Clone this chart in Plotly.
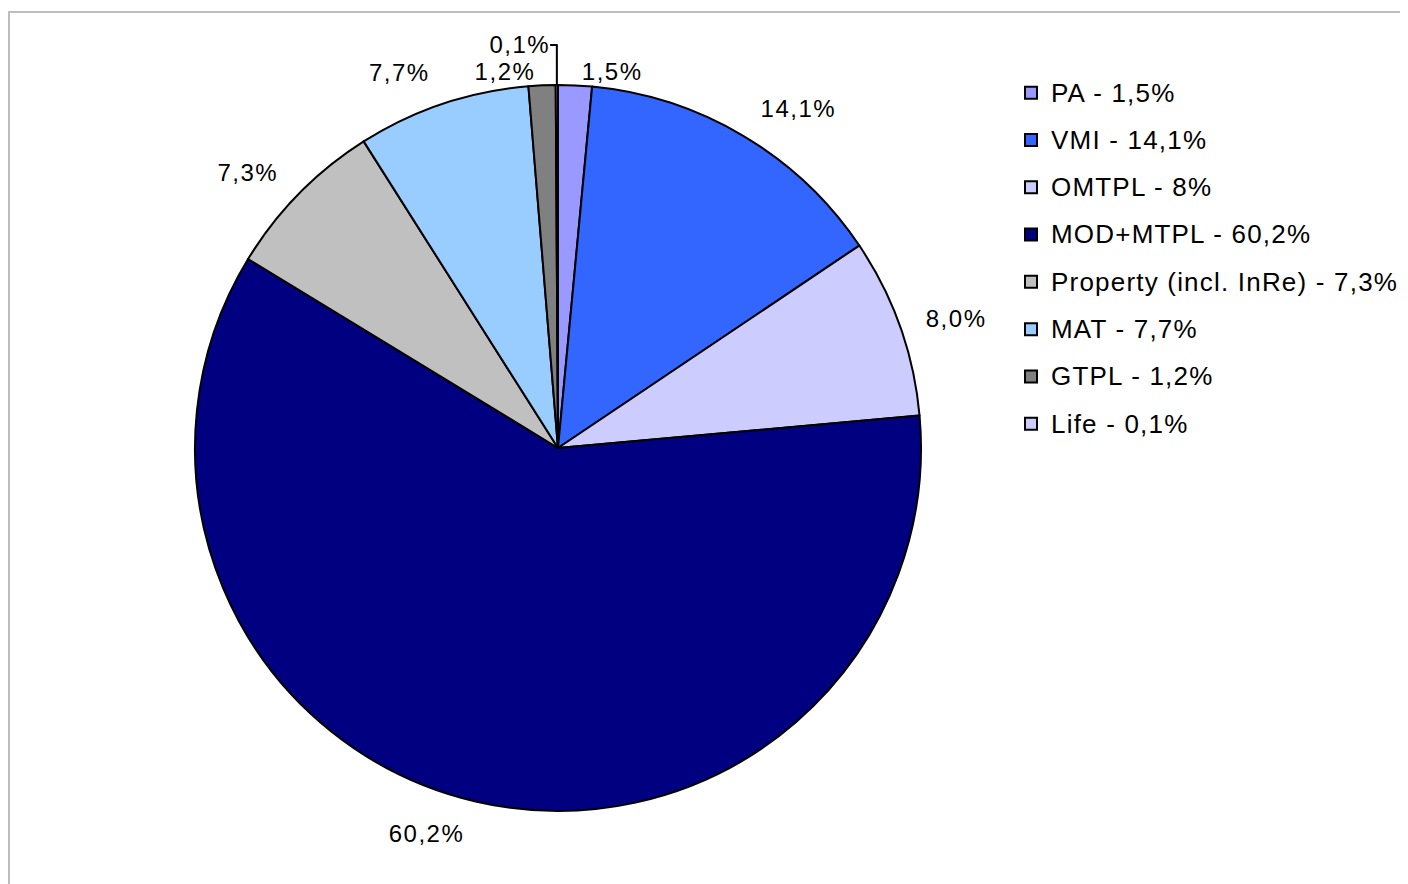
import plotly.graph_objects as go

categories = ["PA", "VMI", "OMTPL", "MOD+MTPL", "Property (incl. InRe)", "MAT", "GTPL", "Life"]
values = [1.5, 14.1, 8.0, 60.2, 7.3, 7.7, 1.2, 0.1]
slice_labels = ["1,5%", "14,1%", "8,0%", "60,2%", "7,3%", "7,7%", "1,2%", "0,1%"]
legend_values = ["1,5%", "14,1%", "8%", "60,2%", "7,3%", "7,7%", "1,2%", "0,1%"]
colors = ["#9999FF", "#3366FF", "#CCCCFF", "#000080", "#C0C0C0", "#99CCFF", "#808080", "#CCCCFF"]

W, H = 1408, 884
FONT = "Liberation Sans, Arial, sans-serif"
SPAN = "<span style='font-size:%dpx;letter-spacing:%.1fpx'>%s</span>"

legend_text = [
    "<br><br>" + SPAN % (26, 1.2, "%s - %s" % (c, v)) + "<br>"
    for c, v in zip(categories, legend_values)
]
# small slices get labels close to the pie, larger ones further out
small = [v < 2 for v in values]
label_far = [("" if s else SPAN % (24, 1.5, t)) for s, t in zip(small, slice_labels)]
label_near = [(SPAN % (24, 1.5, t) if s else "") for s, t in zip(small, slice_labels)]

# page offset of 8px (body margin) taken into account
cx, cy, r = 550, 440, 363


def dom(rad):
    return dict(x=[(cx - rad) / W, (cx + rad) / W], y=[1 - (cy + rad) / H, 1 - (cy - rad) / H])


def label_pie(texts, rad):
    return go.Pie(
        labels=categories,
        values=values,
        text=texts,
        textinfo="text",
        textposition="outside",
        outsidetextfont=dict(family=FONT, size=24, color="#000000"),
        sort=False,
        direction="clockwise",
        rotation=0,
        marker=dict(colors=["rgba(0,0,0,0)"] * len(values), line=dict(width=0)),
        domain=dom(rad),
        showlegend=False,
        hoverinfo="skip",
        automargin=False,
    )


pie = go.Pie(
    labels=legend_text,
    values=values,
    textinfo="none",
    sort=False,
    direction="clockwise",
    rotation=0,
    marker=dict(colors=colors, line=dict(color="#000000", width=2)),
    domain=dom(r),
    hoverinfo="label+percent",
)

fig = go.Figure([label_pie(label_far, r + 20), label_pie(label_near, r), pie])

fig.update_layout(
    width=W,
    height=H,
    margin=dict(l=0, r=0, t=0, b=0),
    paper_bgcolor="#FFFFFF",
    plot_bgcolor="#FFFFFF",
    font=dict(family=FONT, color="#000000"),
    showlegend=True,
    legend=dict(
        x=1003 / W,
        y=1 - 56 / H,
        xanchor="left",
        yanchor="top",
        font=dict(family=FONT, size=8.52, color="#000000"),
        bgcolor="rgba(0,0,0,0)",
    ),
    shapes=[
        dict(
            type="rect",
            xref="paper",
            yref="paper",
            x0=1 / W,
            x1=1.01,
            y0=-0.01,
            y1=1 - 4 / H,
            line=dict(color="#BDBDBD", width=2),
            fillcolor="rgba(0,0,0,0)",
            layer="below",
        )
    ],
)

fig.write_html("out.html")
